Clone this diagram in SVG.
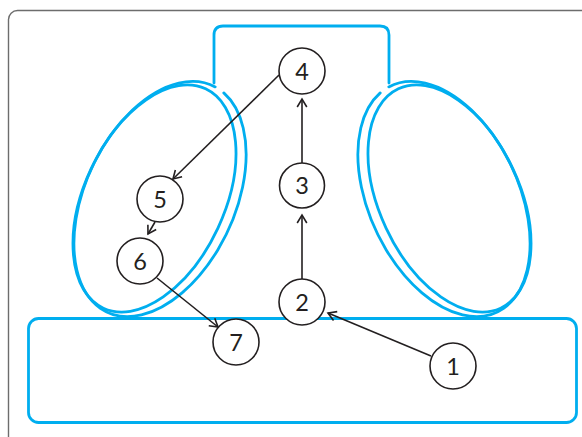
<svg xmlns="http://www.w3.org/2000/svg" width="582" height="437" viewBox="0 0 582 437">
  <style>
    .frame { fill: none; stroke: #6d6d6d; stroke-width: 1.4; }
    .blue { fill: none; stroke: #00aeef; stroke-width: 2.8; stroke-linecap: round; stroke-linejoin: round; }
    .node circle { fill: #ffffff; stroke: #231f20; stroke-width: 1.6; }
    .node text { font-family: Lato, "Open Sans", "Liberation Sans", sans-serif; font-size: 23.5px; fill: #231f20; text-anchor: middle; }
    .edge { fill: none; stroke: #231f20; stroke-width: 1.6; marker-end: url(#ah); }
  </style>
  <defs>
    <marker id="ah" viewBox="-11 -7 13 14" refX="0" refY="0" markerWidth="13" markerHeight="14" markerUnits="userSpaceOnUse" orient="auto">
      <path d="M-8,-4.8 L0,0 L-8,4.8" fill="none" stroke="#231f20" stroke-width="1.6" stroke-linejoin="miter"/>
    </marker>
    <!-- double-walled ring: outer wall broken where the top bracket meets it -->
    <g id="ring">
      <path class="blue" d="M223.8,92.9 A75,125 25 1 1 215.2,86.9"/>
      <ellipse class="blue" cx="154.5" cy="198.5" rx="70" ry="121" transform="rotate(25 154.5 198.5)"/>
    </g>
  </defs>

  <!-- outer panel border -->
  <rect class="frame" x="8.5" y="10.5" width="600" height="460" rx="9"/>

  <!-- base block -->
  <rect id="base" class="blue" x="28.5" y="318.5" width="548" height="104" rx="10"/>

  <!-- top bracket -->
  <path id="bracket" class="blue" d="M214,83 V35 Q214,26 223,26 H380 Q389,26 389,35 V83"/>

  <!-- left and right rings -->
  <use id="ring-left" href="#ring"/>
  <use id="ring-right" href="#ring" transform="matrix(-1 0 0 1 604 0)"/>

  <!-- connectors -->
  <g id="edges">
    <path class="edge" d="M431,356 L328,313"/>
    <path class="edge" d="M302,279 L302,215"/>
    <path class="edge" d="M302,163 L302,99"/>
    <path class="edge" d="M279,75 L173,179"/>
    <path class="edge" d="M155,222 L148,234"/>
    <path class="edge" d="M157,278 L218,327"/>
  </g>

  <!-- numbered nodes -->
  <g id="n1" class="node"><circle cx="453" cy="366" r="23"/><text x="453" y="374.5">1</text></g>
  <g id="n2" class="node"><circle cx="302" cy="302" r="23"/><text x="302" y="310.5">2</text></g>
  <g id="n3" class="node"><circle cx="302" cy="185.5" r="22.5"/><text x="302" y="194">3</text></g>
  <g id="n4" class="node"><circle cx="302" cy="71" r="23"/><text x="302" y="79.5">4</text></g>
  <g id="n5" class="node"><circle cx="160" cy="199" r="23"/><text x="160" y="207.5">5</text></g>
  <g id="n6" class="node"><circle cx="140" cy="261" r="23"/><text x="140" y="269.5">6</text></g>
  <g id="n7" class="node"><circle cx="236" cy="342" r="23"/><text x="236" y="350.5">7</text></g>
</svg>
